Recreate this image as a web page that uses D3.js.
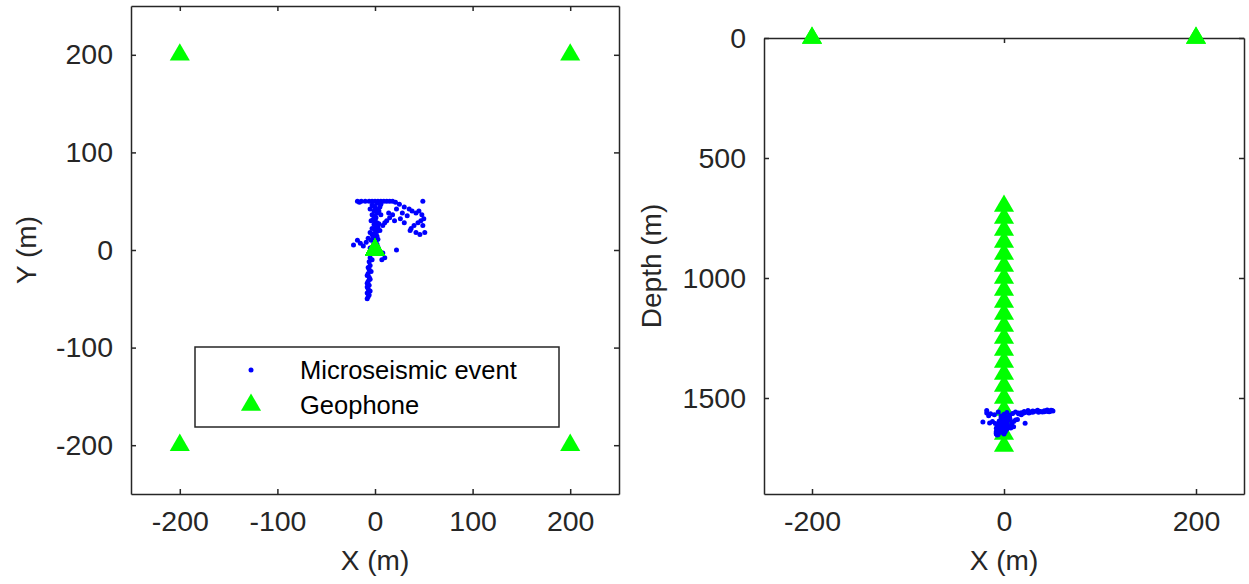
<!DOCTYPE html>
<html>
<head>
<meta charset="utf-8">
<script src="https://cdn.jsdelivr.net/npm/d3@7.9.0/dist/d3.min.js"></script>
<style>
  body { margin: 0; background: #fff; }
  svg { display: block; font-family: "Liberation Sans", Arial, sans-serif; }
  .axis path, .axis line { stroke: #262626; stroke-width: 1.5; }
  .axis text { fill: #262626; font-size: 28.5px; font-family: "Liberation Sans", Arial, sans-serif; }
  .label { fill: #262626; font-size: 28px; }
</style>
</head>
<body>
<svg id="chart" width="1249" height="584"></svg>
<script>
// geophones on the surface: x, y (depth 0)
const surfaceGeophones = [[-200, 200], [200, 200], [-200, -200], [200, -200]];
// vertical well array at x = 0, y = 0
const wellGeophoneDepths = [700, 750, 800, 850, 900, 950, 1000, 1050, 1100, 1150, 1200,
  1250, 1300, 1350, 1400, 1450, 1500, 1550, 1600, 1650, 1700];

// microseismic events: x, y, depth (m)
const events = [
  [-18, 50, 1562], [-14, 50, 1566], [-10, 50, 1570], [-6, 50, 1558], [-3, 50, 1575], [0, 50, 1568],
  [3, 50, 1560], [6, 50, 1572], [9, 50, 1565], [12, 50, 1558], [15, 50, 1563], [18, 50, 1570],
  [21, 49, 1556], [-16, 49, 1574], [2, 48, 1580], [6, 47, 1585],
  [-2, 45, 1590], [0, 44, 1600], [1, 42, 1585], [-1, 40, 1610], [2, 38, 1595], [-3, 36, 1620],
  [0, 35, 1605], [1, 33, 1615], [-2, 31, 1630], [0, 30, 1598], [2, 28, 1612], [-1, 26, 1625],
  [1, 24, 1640], [-3, 22, 1618], [0, 21, 1632], [2, 19, 1608], [-1, 17, 1645], [1, 15, 1622],
  [-2, 13, 1636], [0, 12, 1650], [3, 11, 1628], [-4, 10, 1615], [1, 9, 1642], [-1, 7, 1602],
  [2, 6, 1634], [5, 44, 1578], [4, 40, 1592], [6, 36, 1588], [-5, 42, 1596], [-4, 30, 1604],
  [4, 27, 1590], [5, 20, 1620], [-5, 18, 1626], [3, 3, 1610], [-2, 2, 1625],
  [-3, 46, 1582], [3, 41, 1602], [-1, 34, 1614], [3, 23, 1628], [-3, 16, 1638], [2, 14, 1616],
  [25, 47, 1552], [30, 44, 1554], [35, 42, 1551], [38, 40, 1556], [42, 38, 1553], [45, 40, 1550],
  [48, 36, 1555], [50, 32, 1552], [47, 30, 1557], [44, 28, 1554], [40, 25, 1558], [37, 22, 1556],
  [49, 25, 1551], [51, 18, 1554], [46, 16, 1556], [33, 35, 1555], [28, 38, 1558], [22, 42, 1560],
  [26, 32, 1562], [30, 28, 1559], [20, 30, 1564], [15, 33, 1566], [10, 28, 1598], [8, 25, 1604],
  [12, 30, 1592], [18, 36, 1561], [49, 50, 1553], [42, 18, 1557], [36, 20, 1559], [14, 38, 1590],
  [-22, 5, 1600], [-18, 10, 1552], [-15, 7, 1604], [-12, 4, 1598], [-9, 8, 1606], [-7, 12, 1610],
  [-5, 2, 1615], [22, 0, 1605], [8, -3, 1612], [10, -8, 1620], [7, -10, 1625],
  [-4, -4, 1620], [-5, -8, 1628], [-6, -12, 1634], [-5, -16, 1640], [-6, -20, 1645], [-7, -24, 1650],
  [-6, -28, 1638], [-7, -32, 1646], [-6, -36, 1652], [-7, -40, 1642], [-8, -44, 1648], [-7, -48, 1654],
  [-8, -50, 1650], [-6, -46, 1644], [-5, -42, 1636], [-8, -38, 1640], [-5, -30, 1632], [-8, -26, 1626],
  [-4, -22, 1630], [-7, -18, 1622], [-3, -10, 1618], [-8, -34, 1644]
];

const xTicksLeft = [-200, -100, 0, 100, 200];
const yTicksLeft = [-200, -100, 0, 100, 200];
const xTicksRight = [-200, 0, 200];
const depthTicks = [0, 500, 1000, 1500];

const legendItems = ['Microseismic event', 'Geophone'];

const svg = d3.select('#chart');
const tri = d3.symbol().type(d3.symbolTriangle).size(175)();
const GREEN = '#00ff00', BLUE = '#0000ff';
const fmt = d => String(d);

function frame(g, x, y, xTicks, yTicks) {
  const [x0, x1] = x.range();
  const [y0, y1] = [d3.min(y.range()), d3.max(y.range())];
  g.append('g').attr('class', 'axis').attr('transform', `translate(0,${y1})`)
    .call(d3.axisBottom(x).tickValues(xTicks).tickFormat(fmt).tickSizeInner(-5).tickSizeOuter(0).tickPadding(17));
  g.append('g').attr('class', 'axis').attr('transform', `translate(${x0},0)`)
    .call(d3.axisLeft(y).tickValues(yTicks).tickFormat(fmt).tickSizeInner(-5).tickSizeOuter(0).tickPadding(18));
  g.append('g').attr('class', 'axis').attr('transform', `translate(0,${y0})`)
    .call(d3.axisTop(x).tickValues(xTicks).tickSizeInner(-5).tickSizeOuter(0).tickFormat(''));
  g.append('g').attr('class', 'axis').attr('transform', `translate(${x1},0)`)
    .call(d3.axisRight(y).tickValues(yTicks).tickSizeInner(-5).tickSizeOuter(0).tickFormat(''));
}

// ---- left: plan view ----
const xL = d3.scaleLinear().domain([-250, 250]).range([131, 619]);
const yL = d3.scaleLinear().domain([-250, 250]).range([494, 6]);
const left = svg.append('g');
frame(left, xL, yL, xTicksLeft, yTicksLeft);

left.append('g').selectAll('circle').data(events).join('circle')
  .attr('cx', d => xL(d[0])).attr('cy', d => yL(d[1])).attr('r', 2.5).attr('fill', BLUE);

const planGeo = surfaceGeophones.concat(wellGeophoneDepths.map(() => [0, 0]));
left.append('g').selectAll('path').data(planGeo).join('path')
  .attr('d', tri).attr('fill', GREEN)
  .attr('transform', d => `translate(${xL(d[0])},${yL(d[1])})`);

left.append('text').attr('class', 'label').attr('x', 375).attr('y', 570)
  .attr('text-anchor', 'middle').text('X (m)');
left.append('text').attr('class', 'label').attr('text-anchor', 'middle')
  .attr('transform', 'translate(36,250) rotate(-90)').text('Y (m)');

// legend
const lg = left.append('g');
lg.append('rect').attr('x', 195).attr('y', 347).attr('width', 364).attr('height', 80)
  .attr('fill', '#fff').attr('stroke', '#262626').attr('stroke-width', 1.5);
lg.append('circle').attr('cx', 251).attr('cy', 370).attr('r', 2.5).attr('fill', BLUE);
lg.append('path').attr('d', tri).attr('fill', GREEN).attr('transform', 'translate(251,405)');
lg.selectAll('text').data(legendItems).join('text')
  .attr('x', 300).attr('y', (d, i) => 379 + i * 35)
  .attr('font-size', 25.5).attr('fill', '#000').text(d => d);

// ---- right: section view ----
const xR = d3.scaleLinear().domain([-250, 250]).range([764, 1244]);
const yR = d3.scaleLinear().domain([0, 1900]).range([38, 494]);
const right = svg.append('g');
frame(right, xR, yR, xTicksRight, depthTicks);

const sectionGeo = surfaceGeophones.map(d => [d[0], 0])
  .concat(wellGeophoneDepths.map(z => [0, z]));
right.append('g').selectAll('path').data(sectionGeo).join('path')
  .attr('d', tri).attr('fill', GREEN)
  .attr('transform', d => `translate(${xR(d[0])},${yR(d[1])})`);

right.append('g').selectAll('circle').data(events).join('circle')
  .attr('cx', d => xR(d[0])).attr('cy', d => yR(d[2])).attr('r', 2.5).attr('fill', BLUE);

right.append('text').attr('class', 'label').attr('x', 1004).attr('y', 570)
  .attr('text-anchor', 'middle').text('X (m)');
right.append('text').attr('class', 'label').attr('text-anchor', 'middle')
  .attr('transform', 'translate(661,266) rotate(-90)').text('Depth (m)');
</script>
</body>
</html>
